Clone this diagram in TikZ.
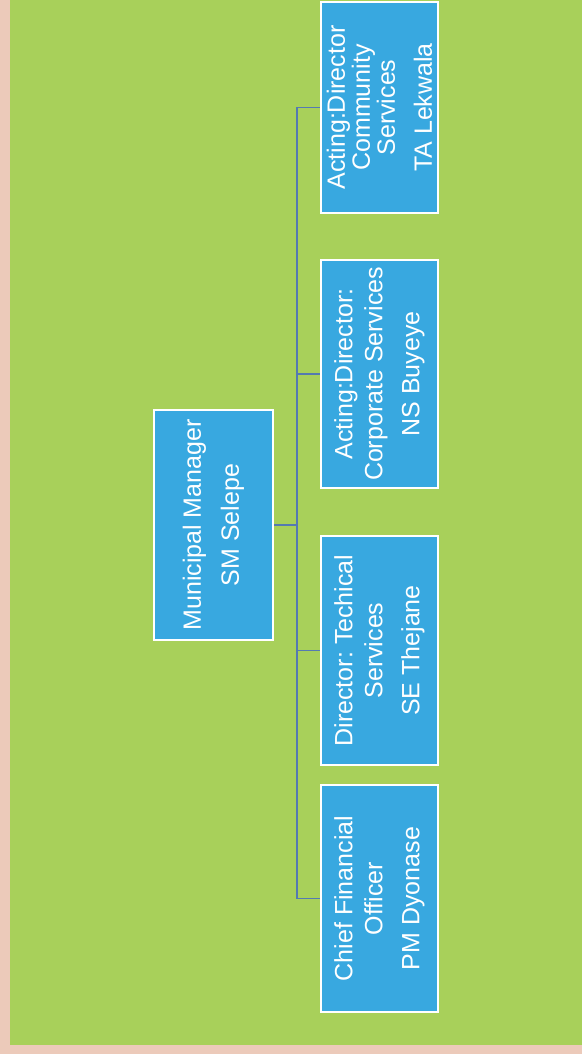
\documentclass[tikz,border=0pt]{standalone}
\usepackage{fontspec}
\setmainfont{Liberation Sans}
\frenchspacing
\definecolor{pinkbg}{RGB}{236,202,186}
\definecolor{greenbg}{RGB}{168,208,90}
\definecolor{boxblue}{RGB}{56,168,224}
\definecolor{linkblue}{RGB}{84,122,178}
\tikzset{
  orgbox/.style={draw=white, line width=2pt, fill=boxblue, text=white, rotate=90,
    minimum height=117pt, align=center, inner sep=0pt,
    font=\fontsize{25}{30}\selectfont},
  link/.style={draw=linkblue, line width=1.6pt}
}
\begin{document}
\begin{tikzpicture}[x=1pt,y=-1pt]
\useasboundingbox (0,0) rectangle (582,1054);
\fill[pinkbg] (0,0) rectangle (582,1054);
\fill[greenbg] (10,0) rectangle (582,1045);
\node[orgbox, minimum width=230pt, minimum height=119pt] (mgr) at (213.5,525) {Municipal Manager\\[8pt]SM Selepe};
\node[orgbox, minimum width=211pt, font=\fontsize{25}{25}\selectfont] (comm) at (379.5,107.5) {Acting:Director\\Community\\Services\\[12pt]TA Lekwala};
\node[orgbox, minimum width=228pt] (corp) at (379.5,374) {Acting:Director:\\Corporate Services\\[7pt]NS Buyeye};
\node[orgbox, minimum width=229pt] (tech) at (379.5,650.5) {Director: Techical\\Services\\[7pt]SE Thejane};
\node[orgbox, minimum width=227pt] (cfo) at (379.5,898.5) {Chief Financial\\Officer\\[7pt]PM Dyonase};
\coordinate (bus) at (297,525);
\draw[link] (mgr.south) -- (bus);
\draw[link] (comm.north -| bus) -- (cfo.north -| bus);
\foreach \n in {comm,corp,tech,cfo} \draw[link] (\n.north -| bus) -- (\n.north);
\end{tikzpicture}
\end{document}
